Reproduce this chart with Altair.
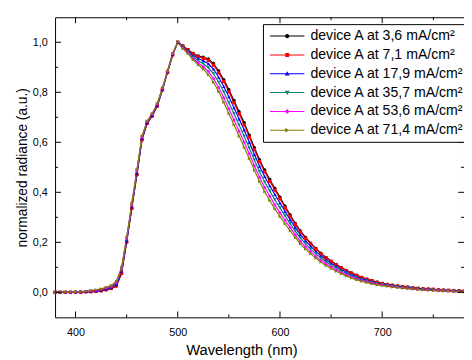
import altair as alt
import pandas as pd

wavelength = list(range(380, 781, 5))

labels = [
    "device A at 3,6 mA/cm²",
    "device A at 7,1 mA/cm²",
    "device A at 17,9 mA/cm²",
    "device A at 35,7 mA/cm²",
    "device A at 53,6 mA/cm²",
    "device A at 71,4 mA/cm²",
]
colors = ["#000000", "#ff0000", "#0000ff", "#008080", "#ff00ff", "#808000"]
shapes = ["circle", "square", "triangle-up", "triangle-down", "diamond", "triangle-right"]

s_3_6 = [0.000, 0.000, 0.000, 0.000, 0.000, 0.001, 0.002, 0.003, 0.004, 0.006,
         0.010, 0.015, 0.025, 0.075, 0.200, 0.335, 0.470, 0.610, 0.675, 0.705,
         0.745, 0.810, 0.880, 0.950, 1.000, 0.985, 0.970, 0.955, 0.945, 0.940,
         0.933, 0.915, 0.885, 0.850, 0.810, 0.767, 0.722, 0.678, 0.628, 0.578,
         0.530, 0.489, 0.451, 0.415, 0.380, 0.344, 0.309, 0.276, 0.246, 0.220,
         0.197, 0.176, 0.157, 0.140, 0.125, 0.112, 0.099, 0.088, 0.078, 0.069,
         0.060, 0.053, 0.047, 0.041, 0.036, 0.032, 0.029, 0.026, 0.023, 0.021,
         0.018, 0.016, 0.014, 0.013, 0.012, 0.010, 0.009, 0.008, 0.007, 0.006,
         0.005]
s_7_1 = [0.000, 0.000, 0.000, 0.000, 0.000, 0.001, 0.002, 0.003, 0.004, 0.007,
         0.011, 0.016, 0.027, 0.077, 0.202, 0.337, 0.472, 0.611, 0.676, 0.706,
         0.746, 0.811, 0.880, 0.950, 1.000, 0.984, 0.969, 0.953, 0.942, 0.936,
         0.928, 0.909, 0.878, 0.843, 0.802, 0.759, 0.714, 0.670, 0.621, 0.571,
         0.523, 0.482, 0.444, 0.409, 0.374, 0.338, 0.304, 0.271, 0.242, 0.216,
         0.194, 0.173, 0.154, 0.137, 0.123, 0.110, 0.097, 0.086, 0.076, 0.067,
         0.059, 0.052, 0.046, 0.040, 0.035, 0.031, 0.028, 0.025, 0.023, 0.021,
         0.018, 0.016, 0.014, 0.013, 0.012, 0.010, 0.009, 0.008, 0.007, 0.006,
         0.005]
s_17_9 = [0.000, 0.000, 0.000, 0.000, 0.000, 0.001, 0.003, 0.004, 0.006, 0.008,
          0.013, 0.019, 0.031, 0.083, 0.206, 0.341, 0.476, 0.615, 0.678, 0.708,
          0.748, 0.812, 0.882, 0.952, 1.000, 0.982, 0.966, 0.948, 0.935, 0.926,
          0.914, 0.893, 0.860, 0.823, 0.782, 0.738, 0.693, 0.649, 0.600, 0.551,
          0.504, 0.463, 0.426, 0.391, 0.357, 0.323, 0.290, 0.259, 0.230, 0.206,
          0.184, 0.164, 0.146, 0.130, 0.116, 0.104, 0.092, 0.081, 0.072, 0.063,
          0.055, 0.049, 0.043, 0.038, 0.033, 0.030, 0.027, 0.024, 0.021, 0.019,
          0.017, 0.015, 0.013, 0.012, 0.011, 0.009, 0.008, 0.007, 0.006, 0.005,
          0.004]
s_35_7 = [0.000, 0.000, 0.000, 0.000, 0.001, 0.002, 0.003, 0.005, 0.007, 0.010,
          0.016, 0.022, 0.036, 0.089, 0.211, 0.346, 0.481, 0.618, 0.681, 0.711,
          0.751, 0.814, 0.883, 0.953, 1.000, 0.980, 0.962, 0.941, 0.926, 0.914,
          0.898, 0.874, 0.840, 0.801, 0.758, 0.714, 0.669, 0.624, 0.577, 0.529,
          0.482, 0.441, 0.405, 0.370, 0.338, 0.306, 0.274, 0.245, 0.217, 0.194,
          0.173, 0.155, 0.137, 0.122, 0.109, 0.097, 0.085, 0.075, 0.066, 0.059,
          0.051, 0.045, 0.040, 0.035, 0.031, 0.028, 0.025, 0.022, 0.020, 0.018,
          0.015, 0.013, 0.012, 0.010, 0.009, 0.008, 0.007, 0.006, 0.005, 0.004,
          0.003]
s_53_6 = [0.000, 0.000, 0.000, 0.000, 0.001, 0.002, 0.004, 0.006, 0.009, 0.012,
          0.018, 0.025, 0.041, 0.095, 0.216, 0.351, 0.486, 0.622, 0.683, 0.713,
          0.753, 0.816, 0.884, 0.954, 1.000, 0.977, 0.958, 0.935, 0.917, 0.902,
          0.883, 0.855, 0.819, 0.778, 0.734, 0.689, 0.644, 0.600, 0.554, 0.506,
          0.460, 0.419, 0.384, 0.350, 0.318, 0.288, 0.259, 0.230, 0.204, 0.182,
          0.163, 0.145, 0.128, 0.114, 0.101, 0.090, 0.079, 0.070, 0.061, 0.054,
          0.047, 0.042, 0.037, 0.032, 0.029, 0.026, 0.023, 0.020, 0.018, 0.016,
          0.014, 0.012, 0.011, 0.009, 0.008, 0.007, 0.006, 0.005, 0.004, 0.003,
          0.003]
s_71_4 = [0.000, 0.000, 0.000, 0.000, 0.001, 0.002, 0.004, 0.007, 0.010, 0.014,
          0.020, 0.028, 0.045, 0.100, 0.220, 0.355, 0.490, 0.625, 0.685, 0.715,
          0.755, 0.818, 0.885, 0.955, 1.000, 0.975, 0.955, 0.930, 0.910, 0.893,
          0.870, 0.840, 0.803, 0.760, 0.715, 0.670, 0.625, 0.580, 0.535, 0.488,
          0.443, 0.402, 0.367, 0.334, 0.303, 0.274, 0.246, 0.219, 0.194, 0.173,
          0.154, 0.137, 0.121, 0.107, 0.095, 0.084, 0.074, 0.065, 0.057, 0.050,
          0.044, 0.039, 0.034, 0.030, 0.027, 0.024, 0.021, 0.019, 0.017, 0.015,
          0.013, 0.011, 0.010, 0.008, 0.007, 0.006, 0.005, 0.004, 0.003, 0.002,
          0.002]

series_values = [s_3_6, s_7_1, s_17_9, s_35_7, s_53_6, s_71_4]

x_major = [400, 500, 600, 700]
x_minor = [450, 550, 650, 750]
y_major = [0.0, 0.2, 0.4, 0.6, 0.8, 1.0]
y_minor = [0.1, 0.3, 0.5, 0.7, 0.9]

FONT = "Liberation Sans"
W, H = 417, 306
X_DOM = [380, 780]
Y_DOM = [-0.1, 1.1]

rows = []
for k, (lab, vals) in enumerate(zip(labels, series_values)):
    for w, v in zip(wavelength, vals):
        rows.append({"kind": "curve", "wl": w, "rad": v, "series": lab,
                     "k": k, "tshape": ""})

# inward tick marks drawn as symbols sitting on the frame
# (symbol size 144 -> one path unit = 6 px)
for vals, ln in ((x_major, "1"), (x_minor, "0.5")):
    for v in vals:
        rows.append({"kind": "tick", "wl": v, "rad": Y_DOM[0], "series": "",
                     "k": -1, "tshape": "M0,0V-" + ln})
        rows.append({"kind": "tick", "wl": v, "rad": Y_DOM[1], "series": "",
                     "k": -1, "tshape": "M0,0V" + ln})
for vals, ln in ((y_major, "1"), (y_minor, "0.5")):
    for v in vals:
        rows.append({"kind": "tick", "wl": X_DOM[0], "rad": v, "series": "",
                     "k": -1, "tshape": "M0,0H" + ln})
        rows.append({"kind": "tick", "wl": X_DOM[1], "rad": v, "series": "",
                     "k": -1, "tshape": "M0,0H-" + ln})
df = pd.DataFrame(rows)

# legend symbols: a short line with the series marker in its middle
# (unit = 5 px for symbolSize 100; symbol centre sits 5 px into the entry)
line_part = "M-1,-0.1H6V0.1H-1Z "
legend_paths = [
    line_part + "M2.95,0A0.45,0.45 0 1,1 2.05,0A0.45,0.45 0 1,1 2.95,0Z",
    line_part + "M2.1,-0.4H2.9V0.4H2.1Z",
    line_part + "M2.5,-0.5L3,0.35H2Z",
    line_part + "M2.5,0.5L2,-0.35H3Z",
    line_part + "M2.5,-0.5L3,0L2.5,0.5L2,0Z",
    line_part + "M3,0L2.1,0.45V-0.45Z",
]

xscale = alt.Scale(domain=X_DOM, nice=False, zero=False)
yscale = alt.Scale(domain=Y_DOM, nice=False, zero=False)

x_axis = alt.Axis(orient="bottom", values=x_major, ticks=False, tickSize=0,
                  domain=False, grid=False, labelFontSize=11, labelPadding=10,
                  labelColor="black", labelFont=FONT,
                  title="Wavelength (nm)", titleFontSize=15,
                  titleFontWeight="normal", titlePadding=5, titleX=190,
                  titleColor="black", titleFont=FONT)
y_axis = alt.Axis(orient="left", values=y_major, ticks=False, tickSize=0,
                  domain=False, grid=False, labelFontSize=11, labelPadding=8,
                  labelColor="black", labelFont=FONT,
                  labelExpr="replace(format(datum.value, '.1f'), '.', ',')",
                  title="normalized radiance (a.u.)", titleFontSize=14,
                  titleFontWeight="normal", titlePadding=3,
                  titleColor="black", titleFont=FONT)


def X(field):
    return alt.X(field, type="quantitative", scale=xscale, axis=x_axis)


def Y(field):
    return alt.Y(field, type="quantitative", scale=yscale, axis=y_axis)


cscale = alt.Scale(domain=labels, range=colors)
base = alt.Chart(df)

lines = base.transform_filter(alt.datum.kind == "curve").mark_line(strokeWidth=1.2).encode(
    x=X("wl"), y=Y("rad"),
    color=alt.Color("series:N", scale=cscale, legend=None),
)

points = base.transform_filter(alt.datum.kind == "curve").mark_point(
    filled=True, size=12, opacity=1).encode(
    x=X("wl"), y=Y("rad"),
    color=alt.Color("series:N", scale=cscale, legend=None),
    shape=alt.Shape("series:N", scale=alt.Scale(domain=labels, range=shapes), legend=None),
)

ticks = base.transform_filter(alt.datum.kind == "tick").mark_point(
    filled=False, size=144, color="black", strokeWidth=1, opacity=1).encode(
    x=X("wl"), y=Y("rad"),
    shape=alt.Shape("tshape:N", scale=None, legend=None),
)

leg = dict(orient="none", legendX=212, legendY=7, title=None,
           strokeColor="black", fillColor="white", padding=5, rowPadding=4.2,
           labelFontSize=14.4, labelFont=FONT, labelColor="black", labelOffset=29,
           labelLimit=400, symbolSize=100, symbolStrokeWidth=0, symbolOpacity=1,
           cornerRadius=0)

legend_layer = base.transform_filter(alt.datum.kind == "none").mark_point(
    filled=True, size=100, opacity=1).encode(
    x=X("wl"), y=Y("rad"),
    color=alt.Color("series:N", scale=cscale, legend=alt.Legend(**leg)),
    shape=alt.Shape("series:N", scale=alt.Scale(domain=labels, range=legend_paths),
                    legend=alt.Legend(**leg)),
)

chart = alt.layer(lines, points, ticks, legend_layer).resolve_scale(
    color="independent", shape="independent"
).properties(
    width=W, height=H,
    autosize=alt.AutoSizeParams(type="none"),
    padding={"left": 48, "top": 6, "right": 0, "bottom": 38},
    background="white",
).configure_view(stroke="black", strokeWidth=1)

chart.save("out.html", embed_options={"renderer": "svg", "actions": False})
